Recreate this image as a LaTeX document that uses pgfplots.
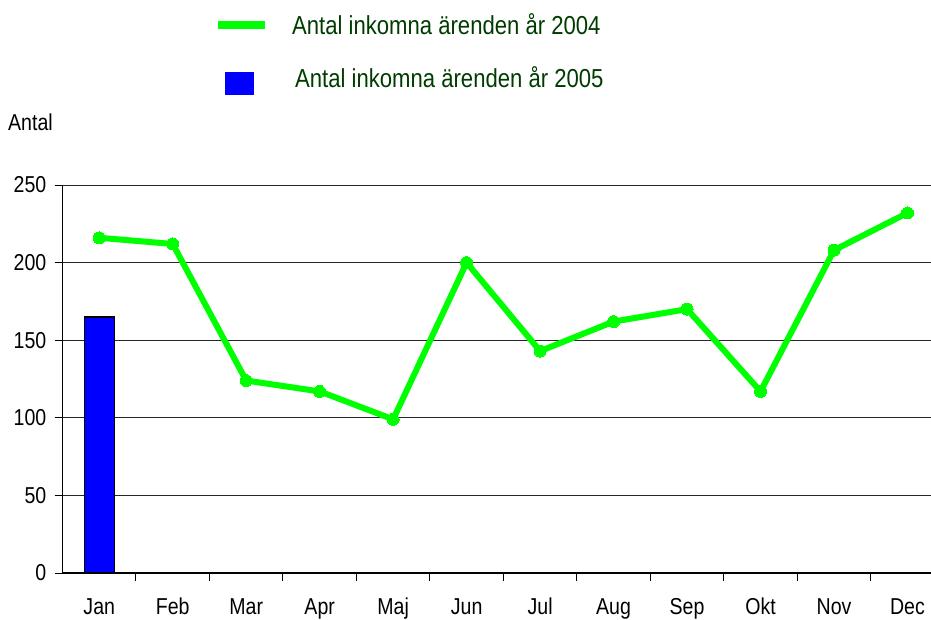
\documentclass[border=0pt]{standalone}
\usepackage{pgfplots}
\pgfplotsset{compat=1.18}
\usepackage{fontspec}
\setmainfont{Liberation Sans}[FakeStretch=0.85]
\definecolor{lgreen}{RGB}{0,255,0}
\definecolor{lblue}{RGB}{0,0,255}
\definecolor{legtext}{RGB}{0,60,0}
\begin{document}
\begin{tikzpicture}
\begin{axis}[
  scale only axis,
  width=868.5pt, height=388pt,
  xmin=-0.5, xmax=11.32,
  ymin=0, ymax=250,
  axis x line=bottom, axis y line=left,
  axis line style={-, black, line width=1.3pt},
  xtick={0,...,11},
  xticklabels={Jan,Feb,Mar,Apr,Maj,Jun,Jul,Aug,Sep,Okt,Nov,Dec},
  minor xtick={0.5,1.5,...,10.5},
  major x tick style={draw=none},
  minor x tick style={black, line width=1pt},
  ytick={0,50,...,250},
  ytick style={black, line width=1pt},
  major tick length=8pt, minor tick length=8pt,
  tick align=outside,
  ymajorgrids,
  grid style={black!85, line width=0.9pt},
  /pgf/number format/assume math mode=true,
  ticklabel style={font=\fontsize{23}{27}\selectfont, inner sep=0pt},
  yticklabel style={anchor=east, xshift=-8pt},
  xticklabel style={anchor=north, yshift=-17pt},
  clip=false,
  legend style={draw=none, fill=none, at={(rel axis cs:0,1)}, anchor=north west,
    xshift=152.5pt, yshift=174pt, column sep=27pt, row sep=23pt,
    font=\fontsize{26}{30}\selectfont, text=legtext, nodes={inner sep=0pt}},
  legend cell align=left,
]
\coordinate (O) at (rel axis cs:0,0);
\addlegendimage{legend image code/.code={\path[draw=none,fill=none] (0pt,-18pt) rectangle (47pt,12pt); \fill[lgreen, draw=none] (0pt,-4pt) rectangle (47pt,4pt);}}
\addlegendentry{Antal inkomna ärenden år 2004}
\addlegendimage{legend image code/.code={\path[draw=none,fill=none] (0pt,-18pt) rectangle (47pt,12pt); \fill[lblue, draw=none] (7pt,-16.5pt) rectangle (36pt,6.5pt);}}
\addlegendentry[xshift=3pt]{Antal inkomna ärenden år 2005}
\addplot[ybar, bar width=30pt, fill=lblue, draw=black, line width=1.2pt, forget plot] coordinates {(0,165)};
\addplot[lgreen, line width=6pt, line join=round, mark=*, mark size=6pt, mark options={solid, fill=lgreen, draw=lgreen, line width=0pt}, forget plot]
  coordinates {(0,216) (1,212) (2,124) (3,117) (4,99) (5,200) (6,143) (7,162) (8,170) (9,117) (10,208) (11,232)};
\node[anchor=base west, inner sep=0pt, font=\fontsize{23}{27}\selectfont, xshift=-54.5pt, yshift=55pt] at (rel axis cs:0,1) {Antal};
\end{axis}
\pgfresetboundingbox
\path (O) ++(-62.5pt,-46pt) rectangle ++(931pt,619pt);
\end{tikzpicture}
\end{document}
